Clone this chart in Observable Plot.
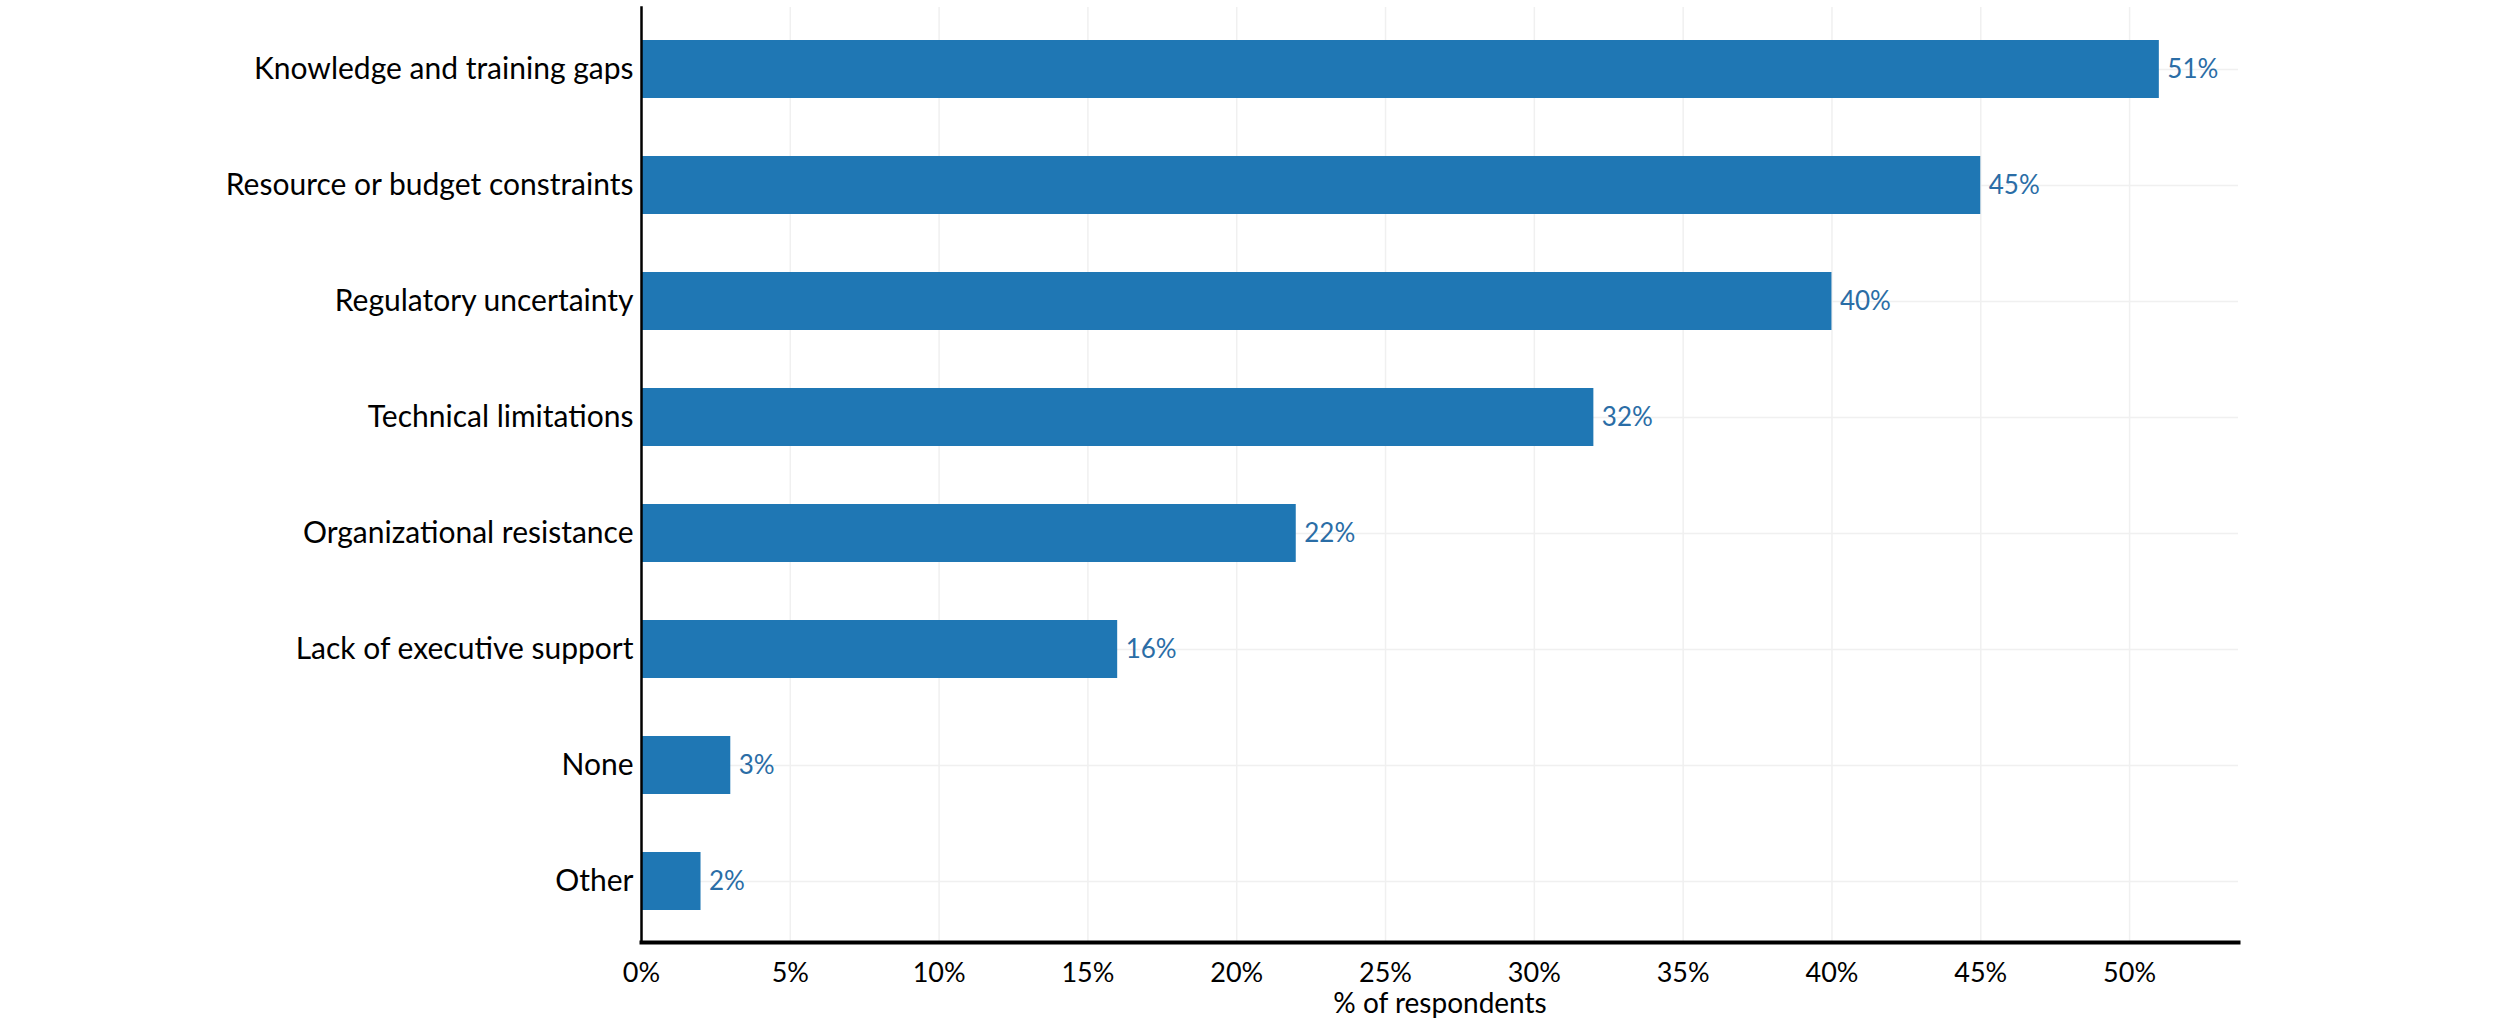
<!DOCTYPE html>
<html>
<head>
<meta charset="utf-8">
<script src="https://cdn.jsdelivr.net/npm/d3@7"></script>
<script src="https://cdn.jsdelivr.net/npm/@observablehq/plot@0.6"></script>
<style>
  html, body { margin: 0; padding: 0; background: #fff; }
</style>
</head>
<body>
<div id="chart"></div>
<script>
const categories = [
  "Knowledge and training gaps",
  "Resource or budget constraints",
  "Regulatory uncertainty",
  "Technical limitations",
  "Organizational resistance",
  "Lack of executive support",
  "None",
  "Other"
];
const values = [51, 45, 40, 32, 22, 16, 3, 2];
const xTicks = [0, 5, 10, 15, 20, 25, 30, 35, 40, 45, 50];
const xLabel = "% of respondents";

const data = categories.map((c, i) => ({category: c, value: values[i]}));

const chart = Plot.plot({
  width: 2500,
  height: 1023,
  marginLeft: 641,
  marginRight: 262,
  marginTop: 7,
  marginBottom: 81,
  style: {fontFamily: "Lato, 'Open Sans', sans-serif", fontSize: "27px", color: "#000", background: "#fff"},
  x: {
    domain: [0, 53.66],
    label: xLabel,
    labelAnchor: "center",
    labelArrow: "none"
  },
  y: {
    domain: categories,
    paddingInner: 0.5,
    paddingOuter: 0.25,
    label: null
  },
  marks: [
    Plot.gridX(xTicks, {stroke: "#f0f0f0", strokeOpacity: 1, strokeWidth: 1.5}),
    Plot.gridY(categories, {stroke: "#f0f0f0", strokeOpacity: 1, strokeWidth: 1.5}),
    Plot.barX(data, {x: "value", y: "category", fill: "#1f77b4"}),
    Plot.text(data, {x: "value", y: "category", text: d => d.value + "%", textAnchor: "start", dx: 8, fill: "#2a6da6", fontSize: 26}),
    Plot.axisY({tickSize: 0, tickPadding: 8, fontSize: 30, label: null}),
    Plot.axisX(xTicks, {tickSize: 0, tickPadding: 20, tickFormat: d => d + "%", fontSize: 27, label: null}),
    Plot.axisX({ticks: [], tickSize: 0, label: xLabel, labelAnchor: "center", labelArrow: "none", labelOffset: 70, fontSize: 28}),
    Plot.frame({anchor: "left", stroke: "#000", strokeWidth: 2.5}),
    Plot.frame({anchor: "bottom", stroke: "#000", strokeWidth: 4})
  ]
});
document.getElementById("chart").appendChild(chart);
</script>
</body>
</html>
